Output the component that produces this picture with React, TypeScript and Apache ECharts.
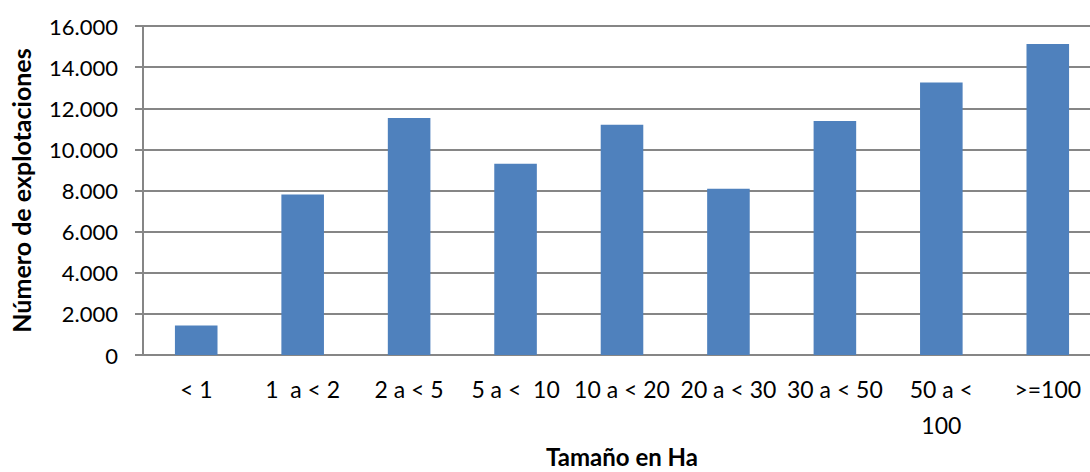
import React, { useEffect, useRef } from "react";
import * as echarts from "echarts";

const categories = ["< 1", "1  a < 2", "2 a < 5", "5 a <  10", "10 a < 20", "20 a < 30", "30 a < 50", "50 a <\n100", ">=100"];
const explotaciones = [1430, 7800, 11530, 9300, 11200, 8080, 11380, 13250, 15120];
const yTicks = { min: 0, max: 16000, interval: 2000 };
const yTitle = "Número de explotaciones";
const xTitle = "Tamaño en Ha";

const FONT = "Lato, 'Open Sans', sans-serif";

export default function App() {
  const ref = useRef<HTMLDivElement>(null);
  useEffect(() => {
    document.body.style.margin = "0";
    const chart = echarts.init(ref.current!, null, { renderer: "svg" });
    chart.setOption({
      animation: false,
      backgroundColor: "#ffffff",
      textStyle: { fontFamily: FONT },
      grid: { left: 143, right: -11, top: 26, height: 329, containLabel: false, outerBoundsMode: "none" },
      xAxis: {
        type: "category",
        data: categories,
        name: xTitle,
        nameLocation: "middle",
        nameMoveOverlap: false,
        nameGap: 101,
        nameTextStyle: { fontFamily: FONT, fontSize: 24, fontWeight: "bold", color: "#000", verticalAlign: "middle" },
        axisLine: { show: true, lineStyle: { color: "#868686", width: 2 } },
        axisTick: { show: false },
        axisLabel: {
          interval: 0,
          margin: 16,
          fontFamily: FONT,
          fontSize: 23,
          color: "#000",
          lineHeight: 36,
        },
      },
      yAxis: {
        type: "value",
        min: yTicks.min,
        max: yTicks.max,
        interval: yTicks.interval,
        name: yTitle,
        nameLocation: "middle",
        nameGap: 110,
        nameTextStyle: { fontFamily: FONT, fontSize: 25, fontWeight: "bold", color: "#000" },
        axisLine: { show: true, lineStyle: { color: "#868686", width: 2 } },
        axisTick: { show: true, length: 8, lineStyle: { color: "#868686", width: 2 } },
        splitLine: { show: true, lineStyle: { color: "#868686", width: 2 } },
        axisLabel: {
          margin: 25,
          fontFamily: FONT,
          fontSize: 22,
          color: "#000",
          formatter: (v: number) => v.toLocaleString("de-DE"),
        },
      },
      series: [
        {
          type: "bar",
          data: explotaciones,
          barWidth: "40%",
          itemStyle: { color: "#4F81BD" },
        },
      ],
    });
    return () => chart.dispose();
  }, []);
  return <div ref={ref} style={{ width: 1090, height: 472 }} />;
}
